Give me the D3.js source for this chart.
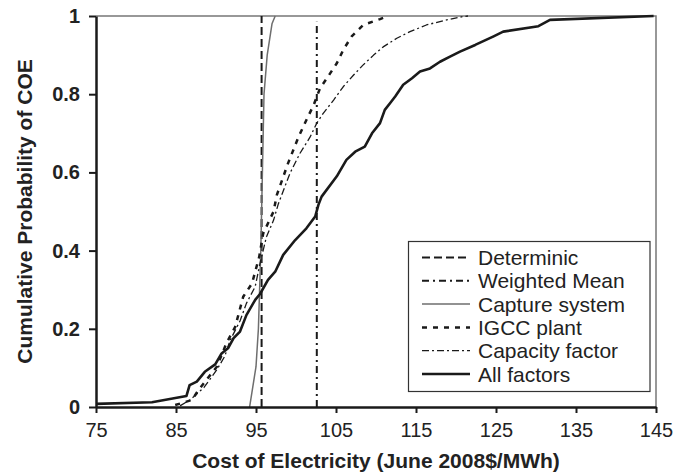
<!DOCTYPE html>
<html>
 <head>
  <meta charset="utf-8" />
  <title>Cumulative Probability of COE</title>
  <script src="https://cdn.jsdelivr.net/npm/d3@7"></script>
  <style>
    body { margin: 0; background: #fff; }
    text { font-family: "Liberation Sans", Arial, sans-serif; fill: #222; }
  </style>
 </head>

 <body>
  <script>
    // tick labels
    var xTicks = [75, 85, 95, 105, 115, 125, 135, 145],
        yTicks = [0, 0.2, 0.4, 0.6, 0.8, 1];

    // vertical reference values
    var deterministicCOE = 95.7,
        weightedMeanCOE  = 102.6;

    // cumulative curves (cost, probability)
    var captureX = [94.2, 95.0, 95.3, 95.6, 95.8, 96.0, 96.4, 97.0, 97.4],
        captureP = [0, 0.103, 0.2, 0.4, 0.6, 0.8, 0.9, 0.98, 1.0];

    var igccX = [84.9, 87, 87.8, 90.1, 91.3, 92.4, 93.4, 94.5, 95.4, 95.9, 97.2, 97.6, 99.0, 100.3,
                 101.3, 102.2, 103.0, 104.0, 105.1, 105.9, 106.96, 108.4, 110.5, 111.5],
        igccP = [0.005, 0.018, 0.043, 0.103, 0.163, 0.205, 0.282, 0.316, 0.384, 0.444, 0.5, 0.542, 0.623, 0.69,
                 0.734, 0.772, 0.815, 0.845, 0.879, 0.913, 0.948, 0.977, 0.992, 1.0];

    var capX = [85.5, 86.75, 88.5, 90.1, 91.1, 91.75, 93, 93.8, 94.9, 95.5, 96.3, 97.2, 97.8, 99.25, 100.5,
                101.75, 102.6, 103.4, 104.7, 105.9, 107.2, 108.4, 109.7, 110.9, 112.6, 114.25, 116.3, 118.4, 120.7, 121.5],
        capP = [0.003, 0.018, 0.05, 0.095, 0.13, 0.17, 0.22, 0.265, 0.308, 0.367, 0.435, 0.478, 0.52, 0.598, 0.649,
                0.69, 0.726, 0.751, 0.785, 0.819, 0.849, 0.875, 0.90, 0.921, 0.943, 0.96, 0.977, 0.988, 0.998, 1.0];

    var allX = [75, 82, 86.3, 86.7, 87.6, 88.6, 89.9, 90.7, 91.5, 92.2, 93.0, 93.8, 94.9, 95.5, 96.5, 97.4, 98.4,
                99.9, 101.3, 102.4, 102.8, 103.2, 105.1, 106.3, 107.4, 108.6, 109.5, 110.5, 111.1, 111.75, 112.4,
                113.4, 114.5, 115.5, 116.75, 118, 119.25, 120.5, 122.4, 124.7, 125.9, 130.3, 131.75, 144.7],
        allP = [0.008, 0.012, 0.028, 0.056, 0.065, 0.09, 0.109, 0.137, 0.15, 0.176, 0.193, 0.235, 0.274, 0.289, 0.325,
                0.346, 0.389, 0.427, 0.457, 0.487, 0.517, 0.538, 0.59, 0.632, 0.653, 0.666, 0.70, 0.726, 0.76, 0.777,
                0.794, 0.824, 0.841, 0.858, 0.866, 0.883, 0.896, 0.909, 0.926, 0.948, 0.96, 0.974, 0.99, 1.0];

    var legendNames = ["Determinic", "Weighted Mean", "Capture system", "IGCC plant", "Capacity factor", "All factors"];

    var W = 686, H = 472,
        pL = 96, pR = 656, pT = 16, pB = 407;

    var x = d3.scaleLinear().domain([75, 145]).range([pL, pR]),
        y = d3.scaleLinear().domain([0, 1]).range([pB, pT]);

    var styles = [
      {stroke: "#1a1a1a", width: 2,   dash: "8,4"},
      {stroke: "#1a1a1a", width: 2,   dash: "7,4,2,4"},
      {stroke: "#6e6e6e", width: 1.5, dash: null},
      {stroke: "#1a1a1a", width: 2.5, dash: "5,6"},
      {stroke: "#1a1a1a", width: 1.3, dash: "7,3,2,3"},
      {stroke: "#1a1a1a", width: 2.6, dash: null}
    ];

    var svg = d3.select("body").append("svg")
        .attr("width", W)
        .attr("height", H);

    svg.append("defs").append("clipPath").attr("id", "plot")
      .append("rect")
        .attr("x", pL).attr("y", pT - 2)
        .attr("width", pR - pL).attr("height", pB - pT + 2);

    // frame top / right
    svg.append("path")
        .attr("d", "M" + pL + "," + pT + "H" + pR + "V" + pB)
        .attr("fill", "none")
        .attr("stroke", "#777")
        .attr("stroke-width", 1.5);

    function zip(xs, ps) {
      return xs.map(function(v, i) { return [v, ps[i]]; });
    }

    var line = d3.line()
        .x(function(d) { return x(d[0]); })
        .y(function(d) { return y(d[1]); });

    var plot = svg.append("g").attr("clip-path", "url(#plot)");

    var series = [
      [[deterministicCOE, 0], [deterministicCOE, 1]],
      [[weightedMeanCOE, 0], [weightedMeanCOE, 0.985]],
      zip(captureX, captureP),
      zip(igccX, igccP),
      zip(capX, capP),
      zip(allX, allP)
    ];

    plot.selectAll("path.series")
      .data(series)
      .enter().append("path")
        .attr("class", "series")
        .attr("d", line)
        .attr("fill", "none")
        .attr("stroke", function(d, i) { return styles[i].stroke; })
        .attr("stroke-width", function(d, i) { return styles[i].width; })
        .attr("stroke-dasharray", function(d, i) { return styles[i].dash; })
        .attr("stroke-linejoin", "round");

    // axes
    var xAxis = svg.append("g")
        .attr("transform", "translate(0," + pB + ")")
        .call(d3.axisBottom(x).tickValues(xTicks).tickSize(6).tickSizeOuter(0).tickPadding(10));

    var yAxis = svg.append("g")
        .attr("transform", "translate(" + pL + ",0)")
        .call(d3.axisLeft(y).tickValues(yTicks).tickSize(7).tickSizeOuter(0).tickPadding(9)
          .tickFormat(function(d) { return d === 0 || d === 1 ? d3.format("d")(d) : d3.format(".1f")(d); }));

    [xAxis, yAxis].forEach(function(a) {
      a.select(".domain").attr("stroke", "#1a1a1a").attr("stroke-width", 2.5);
      a.selectAll(".tick line").attr("stroke", "#1a1a1a").attr("stroke-width", 2);
      a.selectAll("text").attr("fill", "#222").style("font-family", "Liberation Sans, Arial, sans-serif");
    });
    xAxis.selectAll("text").style("font-size", "20px");
    yAxis.selectAll("text").style("font-size", "20px").style("font-weight", "bold");

    svg.append("text")
        .attr("x", (pL + pR) / 2)
        .attr("y", 468)
        .attr("text-anchor", "middle")
        .style("font-size", "21px")
        .style("font-weight", "bold")
        .text("Cost of Electricity (June 2008$/MWh)");

    svg.append("text")
        .attr("transform", "translate(31.5," + ((pT + pB) / 2) + ") rotate(-90)")
        .attr("text-anchor", "middle")
        .style("font-size", "21px")
        .style("font-weight", "bold")
        .text("Cumulative Probability of COE");

    // legend
    var legend = svg.append("g");
    legend.append("rect")
        .attr("x", 408.5).attr("y", 241.5)
        .attr("width", 241.5).attr("height", 150)
        .attr("fill", "#fff")
        .attr("stroke", "#333")
        .attr("stroke-width", 1.2);

    var rows = legend.selectAll("g.row")
      .data(legendNames)
      .enter().append("g")
        .attr("class", "row")
        .attr("transform", function(d, i) { return "translate(0," + (257.5 + i * 23.3) + ")"; });

    rows.append("line")
        .attr("x1", 422).attr("x2", 470)
        .attr("stroke", function(d, i) { return styles[i].stroke; })
        .attr("stroke-width", function(d, i) { return styles[i].width; })
        .attr("stroke-dasharray", function(d, i) { return styles[i].dash; });

    rows.append("text")
        .attr("x", 478)
        .attr("dy", "0.36em")
        .style("font-size", "21px")
        .text(function(d) { return d; });
  </script>
 </body>
</html>
